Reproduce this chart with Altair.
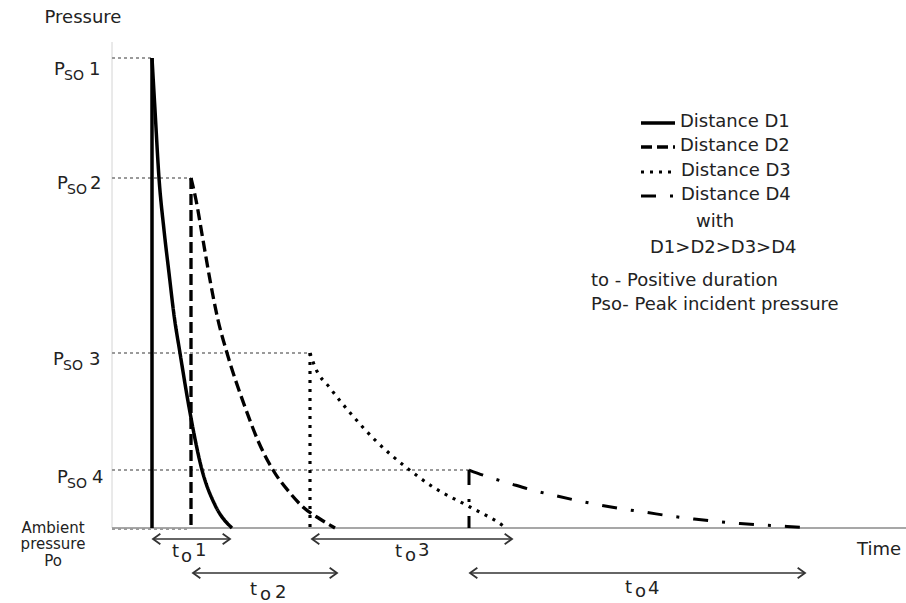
import altair as alt
import pandas as pd

FONT = "DejaVu Sans"
INK = "#222222"

# ---- series (time units on x, pressure units above ambient on y) ----
series = ["Distance D1", "Distance D2", "Distance D3", "Distance D4"]
dashes = [[1, 0], [11, 5], [3, 6], [15, 14, 3, 14]]
widths = [3.5, 3.0, 3.0, 3.5]

peak_t = [4.0, 7.9, 19.8, 35.7]
peak_p = [47.0, 35.0, 17.5, 5.8]

d1_t = [4.0, 4.3, 4.7, 5.2, 5.7, 6.2, 6.8, 7.7, 9.0, 10.3, 12.0]
d1_p = [47.0, 41.8, 35.0, 29.8, 25.5, 21.3, 17.5, 12.1, 5.8, 2.3, 0.0]

d2_t = [7.9, 8.4, 9.1, 9.8, 10.6, 11.5, 13.3, 14.7, 16.1, 17.8, 19.1, 20.8, 22.3]
d2_p = [35.0, 32.8, 28.8, 24.8, 20.8, 17.5, 12.1, 8.5, 5.8, 3.5, 2.1, 0.9, 0.0]

d3_t = [19.8, 20.3, 21.8, 24.0, 26.3, 29.5, 32.1, 35.8, 39.0, 39.4]
d3_p = [17.5, 16.1, 14.0, 11.3, 8.8, 6.0, 4.1, 2.1, 0.3, 0.0]

d4_t = [35.7, 37.5, 39.8, 42.0, 44.3, 46.5, 48.8, 51.1, 53.5, 55.8, 58.2, 60.5, 62.8, 65.1, 67.5, 69.8]
d4_p = [5.8, 5.15, 4.45, 3.8, 3.25, 2.75, 2.3, 1.9, 1.55, 1.2, 0.9, 0.65, 0.45, 0.3, 0.15, 0.0]

curve_t = [d1_t, d2_t, d3_t, d4_t]
curve_p = [d1_p, d2_p, d3_p, d4_p]

# legend keys
key_t = [52.9, 56.3]
key_p = [40.5, 38.1, 35.6, 33.2]

# dotted guides from the pressure axis to each peak (+ ambient)
guide_p = [47.0, 35.0, 17.5, 5.8, -0.1]
guide_t = [4.0, 7.9, 19.8, 35.7, 7.8]

# positive-duration arrows
arrow_t0 = [4.1, 8.1, 20.0, 35.8]
arrow_t1 = [11.8, 22.5, 40.0, 69.3]
arrow_p = [-1.1, -4.5, -1.1, -4.5]

# axes extent
yaxis_top = 48.6
xaxis_end = 79.4

# ---- text annotations ----
left_text = [
    # Pso labels
    ("P", -5.8, 45.3, 18), ("SO", -4.8, 44.8, 14), ("1", -2.3, 45.3, 18),
    ("P", -5.5, 33.9, 18), ("SO", -4.5, 33.4, 14), ("2", -2.2, 33.9, 18),
    ("P", -5.9, 16.3, 18), ("SO", -4.9, 15.8, 14), ("3", -2.3, 16.3, 18),
    ("P", -5.5, 4.5, 18), ("SO", -4.5, 4.0, 14), ("4", -2.0, 4.5, 18),
    # to labels
    ("t", 6.0, -2.9, 18), ("o", 6.9, -3.4, 18), ("1", 8.3, -2.8, 18),
    ("t", 13.8, -6.7, 18), ("o", 14.8, -7.2, 18), ("2", 16.3, -7.0, 18),
    ("t", 28.3, -2.9, 18), ("o", 29.3, -3.3, 18), ("3", 30.6, -2.8, 18),
    ("t", 51.3, -6.5, 18), ("o", 52.3, -6.9, 18), ("4", 53.6, -6.6, 18),
    ("Time", 74.5, -2.7, 18),
    # legend
    ("Distance D1", 56.8, 40.1, 18),
    ("Distance D2", 56.8, 37.7, 18),
    ("Distance D3", 56.9, 35.2, 18),
    ("Distance D4", 56.9, 32.8, 18),
    ("with", 58.4, 30.1, 18),
    ("D1>D2>D3>D4", 53.8, 27.5, 18),
    ("to - Positive duration", 47.9, 24.2, 18),
    ("Pso- Peak incident pressure", 47.9, 21.8, 18),
]
center_text = [
    ("Pressure", -2.9, 50.5, 18),
    ("Ambient", -5.9, -0.45, 15),
    ("pressure", -5.9, -2.1, 15),
    ("Po", -5.9, -3.8, 15),
]

# ---- build tables ----
rows = []
for k, name in enumerate(series):
    rows.append(dict(series=name, path=name + " rise", i=0, t=peak_t[k], p=peak_p[k]))
    rows.append(dict(series=name, path=name + " rise", i=1, t=peak_t[k], p=0.0))
    for i, (t, p) in enumerate(zip(curve_t[k], curve_p[k])):
        rows.append(dict(series=name, path=name + " decay", i=i, t=t, p=p))
    for i, t in enumerate(key_t):
        rows.append(dict(series=name, path=name + " key", i=i, t=t, p=key_p[k]))
curves = pd.DataFrame(rows)

guides = pd.DataFrame({"t0": [0.0] * len(guide_p), "t1": guide_t, "p": guide_p})
axes_df = pd.DataFrame({"t0": [0.0, 0.0], "t1": [0.0, xaxis_end],
                        "p0": [0.0, 0.0], "p1": [yaxis_top, 0.0],
                        "kind": ["y", "x"]})
arrows = pd.DataFrame({"t0": arrow_t0, "t1": arrow_t1, "p": arrow_p})
ltext = pd.DataFrame(left_text, columns=["text", "t", "p", "size"])
ctext = pd.DataFrame(center_text, columns=["text", "t", "p", "size"])

xs = alt.Scale(domain=[-11.2, 79.4], nice=False, zero=False)
ys = alt.Scale(domain=[-7.5, 52.8], nice=False, zero=False)

X = lambda f: alt.X(f, scale=xs, axis=None)
Y = lambda f: alt.Y(f, scale=ys, axis=None)

yaxis = alt.Chart(axes_df).transform_filter("datum.kind == 'y'").mark_rule(
    color="#d4d4d4", strokeWidth=1).encode(x=X("t0:Q"), y=Y("p0:Q"), y2="p1:Q")
xaxis = alt.Chart(axes_df).transform_filter("datum.kind == 'x'").mark_rule(
    color="#8a8a8a", strokeWidth=1.5).encode(x=X("t0:Q"), x2="t1:Q", y=Y("p0:Q"))

guide_layer = alt.Chart(guides).mark_rule(
    color="#9a9a9a", strokeWidth=2, strokeDash=[3, 3]).encode(
    x=X("t0:Q"), x2="t1:Q", y=Y("p:Q"))

line_layer = alt.Chart(curves).mark_line(interpolate="monotone", color="black").encode(
    x=X("t:Q"), y=Y("p:Q"),
    detail="path:N",
    order="i:Q",
    strokeDash=alt.StrokeDash("series:N", scale=alt.Scale(domain=series, range=dashes), legend=None),
    strokeWidth=alt.StrokeWidth("series:O", scale=alt.Scale(domain=series, range=widths), legend=None),
)

arrow_line = alt.Chart(arrows).mark_rule(color="#333333", strokeWidth=1.5).encode(
    x=X("t0:Q"), x2="t1:Q", y=Y("p:Q"))
head_left = alt.Chart(arrows).mark_point(
    shape="M1.4,-1L0,0L1.4,1", filled=False, size=110, strokeWidth=1.8,
    color="#333333", opacity=1).encode(x=X("t0:Q"), y=Y("p:Q"))
head_right = alt.Chart(arrows).mark_point(
    shape="M-1.4,-1L0,0L-1.4,1", filled=False, size=110, strokeWidth=1.8,
    color="#333333", opacity=1).encode(x=X("t1:Q"), y=Y("p:Q"))

text_left = alt.Chart(ltext).mark_text(
    align="left", baseline="alphabetic", font=FONT, color=INK).encode(
    x=X("t:Q"), y=Y("p:Q"), text="text:N", size=alt.Size("size:Q", scale=None))
text_center = alt.Chart(ctext).mark_text(
    align="center", baseline="alphabetic", font=FONT, color=INK).encode(
    x=X("t:Q"), y=Y("p:Q"), text="text:N", size=alt.Size("size:Q", scale=None))

chart = alt.layer(
    yaxis, xaxis, guide_layer, line_layer, arrow_line, head_left, head_right,
    text_left, text_center,
).properties(
    width=906, height=603, padding=0, autosize=alt.AutoSizeParams(type="none"),
    background="white",
).configure_view(stroke=None)

chart.save("out.html", embed_options={"renderer": "svg", "actions": False})
